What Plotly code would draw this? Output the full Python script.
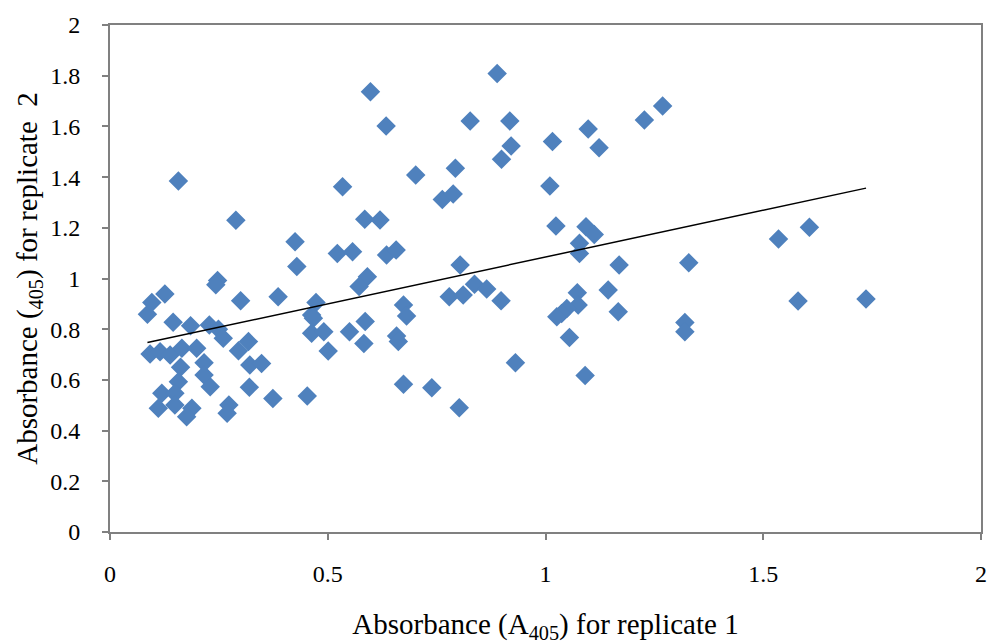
import numpy as np
import plotly.graph_objects as go

# Replicate 1 absorbance (x) and replicate 2 absorbance (y)
rep1 = [0.086, 0.096, 0.126, 0.145, 0.185, 0.228, 0.249, 0.260, 0.247, 0.243,
        0.300, 0.092, 0.115, 0.138, 0.165, 0.199, 0.216, 0.162, 0.216, 0.157,
        0.230, 0.119, 0.149, 0.111, 0.149, 0.188, 0.176, 0.273, 0.269, 0.157,
        0.289, 0.318, 0.295, 0.321, 0.348, 0.320, 0.374, 0.453, 0.386,
        0.473, 0.463, 0.467, 0.463, 0.491, 0.501, 0.550, 0.586, 0.583,
        0.674, 0.681, 0.658, 0.662, 0.522, 0.557, 0.635, 0.657, 0.591, 0.572,
        0.425, 0.429, 0.598, 0.634, 0.889, 0.827, 0.918, 0.921, 0.899, 1.016,
        1.010, 0.534, 0.702, 0.793, 0.763, 0.788, 0.585, 0.620,
        0.779, 0.811, 0.837, 0.865, 0.898, 0.804, 0.931, 0.674, 0.739, 0.802,
        1.098, 1.123, 1.227, 1.269, 1.024, 1.093, 1.112, 1.078, 1.078, 1.169,
        1.329, 1.535, 1.606, 1.144, 1.073, 1.075, 1.049, 1.037, 1.026, 1.167,
        1.055, 1.091, 1.320, 1.320, 1.580, 1.736]
rep2 = [0.859, 0.905, 0.939, 0.827, 0.814, 0.817, 0.800, 0.764, 0.992, 0.975,
        0.912, 0.702, 0.711, 0.698, 0.725, 0.725, 0.668, 0.650, 0.619, 0.593,
        0.573, 0.547, 0.547, 0.488, 0.501, 0.488, 0.455, 0.501, 0.468, 1.385,
        1.230, 0.751, 0.715, 0.659, 0.665, 0.571, 0.527, 0.536, 0.928,
        0.905, 0.856, 0.843, 0.784, 0.790, 0.714, 0.790, 0.830, 0.744,
        0.895, 0.852, 0.773, 0.751, 1.099, 1.106, 1.093, 1.112, 1.007, 0.968,
        1.145, 1.047, 1.737, 1.602, 1.809, 1.621, 1.621, 1.523, 1.470, 1.540,
        1.365, 1.362, 1.408, 1.435, 1.312, 1.333, 1.234, 1.231,
        0.928, 0.935, 0.977, 0.959, 0.912, 1.053, 0.668, 0.583, 0.569, 0.490,
        1.590, 1.516, 1.625, 1.680, 1.207, 1.204, 1.174, 1.139, 1.099, 1.053,
        1.062, 1.156, 1.202, 0.955, 0.944, 0.895, 0.882, 0.862, 0.849, 0.869,
        0.767, 0.617, 0.826, 0.790, 0.911, 0.919]

x_ticks = [0, 0.5, 1, 1.5, 2]
y_ticks = [0, 0.2, 0.4, 0.6, 0.8, 1, 1.2, 1.4, 1.6, 1.8, 2]

xa = np.array(rep1)
ya = np.array(rep2)
slope, intercept = np.polyfit(xa, ya, 1)
line_x = np.array([xa.min(), xa.max()])
line_y = slope * line_x + intercept

fig = go.Figure()
fig.add_trace(go.Scatter(
    x=rep1, y=rep2, mode="markers",
    marker=dict(symbol="diamond", size=15, color="#4F81BD",
                line=dict(width=0)),
    showlegend=False, cliponaxis=False))
fig.add_trace(go.Scatter(
    x=line_x, y=line_y, mode="lines",
    line=dict(color="black", width=1.5), showlegend=False))

serif = "Liberation Serif, Times New Roman, serif"
axis_common = dict(
    showgrid=False, zeroline=False, showline=True, mirror=True,
    linecolor="#808080", linewidth=2, ticks="outside", ticklen=6,
    tickwidth=2, tickcolor="#808080", automargin=False,
    tickfont=dict(family=serif, size=24, color="black"),
)
fig.update_xaxes(range=[0, 2], tickvals=x_ticks, ticklabelstandoff=13,
                 title=dict(text="Absorbance (A<sub>405</sub>) for replicate 1",
                            font=dict(family=serif, size=29, color="black"),
                            standoff=29),
                 **axis_common)
fig.update_yaxes(range=[0, 2], tickvals=y_ticks, ticklabelstandoff=17,
                 tickformat="~g",
                 title=dict(text="Absorbance (<sub>405</sub>) for replicate  2",
                            font=dict(family=serif, size=29, color="black"),
                            standoff=4),
                 **axis_common)
fig.update_layout(
    width=990, height=644,
    margin=dict(l=110, r=9, t=25, b=112),
    plot_bgcolor="white", paper_bgcolor="white",
)
fig.write_html("out.html", config={"displayModeBar": False},
               post_script="document.body.style.margin='0';")
